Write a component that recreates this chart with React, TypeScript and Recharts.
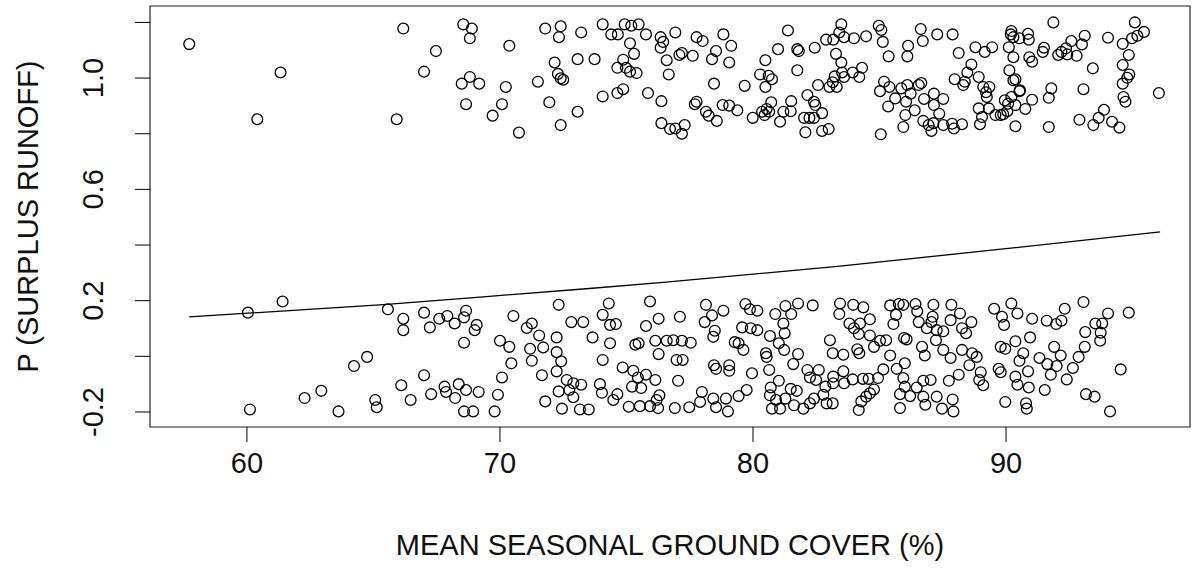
import { ScatterChart, Scatter, XAxis, YAxis, ReferenceArea } from 'recharts';

// [ground cover %, jittered outcome] for seasons with surplus runoff (outcome 1)
const runoffSeasons: [number, number][] = [
  [57.72, 1.122], [61.33, 1.02], [60.41, 0.852], [66.18, 1.178], [65.92, 0.852],
  [68.55, 1.193], [68.89, 1.178], [68.81, 1.143], [67.47, 1.097], [67.0, 1.023],
  [70.37, 1.116], [68.49, 0.98], [68.81, 1.004], [69.18, 0.98], [68.66, 0.906],
  [70.23, 0.968], [70.08, 0.906], [69.71, 0.865], [70.75, 0.804], [71.79, 1.178],
  [72.4, 1.186], [72.33, 1.147], [73.21, 1.164], [72.16, 1.056], [72.29, 1.015],
  [72.4, 0.999], [72.5, 0.994], [71.5, 0.987], [73.07, 1.068], [73.74, 1.068],
  [71.95, 0.913], [73.07, 0.879], [72.4, 0.831], [74.06, 1.193], [74.4, 1.157],
  [74.66, 1.157], [74.93, 1.193], [75.19, 1.188], [75.48, 1.193], [75.77, 1.157],
  [75.14, 1.125], [75.3, 1.087], [74.87, 1.066], [74.64, 1.037], [74.98, 1.037],
  [75.14, 1.023], [75.4, 1.018], [74.06, 0.934], [74.64, 0.946], [74.87, 0.96],
  [75.85, 0.946], [76.38, 0.917], [76.35, 1.147], [76.45, 1.13], [76.35, 1.109],
  [76.93, 1.164], [76.59, 1.064], [76.67, 1.013], [76.38, 0.838], [76.72, 0.817],
  [77.77, 1.147], [78.01, 1.133], [78.83, 1.157], [79.14, 1.116], [77.19, 1.09],
  [77.09, 1.083], [77.62, 1.08], [78.54, 1.097], [78.38, 1.068], [79.06, 1.056],
  [78.46, 0.98], [79.67, 0.972], [81.38, 1.171], [80.49, 1.064], [80.99, 1.104],
  [81.75, 1.104], [81.81, 1.097], [80.28, 1.013], [80.62, 1.008], [80.49, 0.968],
  [80.75, 0.996], [81.75, 1.028], [82.44, 1.109], [82.89, 1.138], [83.17, 1.138],
  [83.49, 1.193], [83.41, 1.164], [83.6, 1.147], [83.99, 1.143], [84.47, 1.15],
  [83.28, 1.087], [83.49, 1.056], [83.52, 1.02], [83.23, 1.006], [83.15, 0.985],
  [83.31, 0.968], [83.6, 1.004], [83.94, 1.02], [84.31, 1.037], [84.2, 1.004],
  [82.57, 0.975], [83.02, 0.968], [84.97, 1.188], [85.07, 1.173], [85.13, 1.13],
  [85.36, 1.078], [86.13, 1.116], [86.1, 1.078], [86.63, 1.176], [86.71, 1.133],
  [77.77, 0.915], [77.7, 0.906], [78.14, 0.879], [78.25, 0.865], [78.57, 0.846],
  [78.8, 0.903], [79.06, 0.901], [79.38, 0.884], [79.99, 0.857], [80.36, 0.879],
  [80.54, 0.889], [80.72, 0.913], [80.64, 0.879], [80.46, 0.867], [81.2, 0.879],
  [81.07, 0.843], [81.51, 0.917], [81.49, 0.881], [82.15, 0.939], [82.41, 0.915],
  [82.46, 0.903], [82.02, 0.857], [82.23, 0.857], [82.41, 0.857], [82.73, 0.874],
  [82.07, 0.805], [82.73, 0.81], [82.99, 0.817], [76.93, 0.819], [77.3, 0.831],
  [77.19, 0.8], [85.02, 0.953], [85.18, 0.987], [85.39, 0.968], [85.62, 0.927],
  [85.34, 0.898], [85.86, 0.963], [86.1, 0.975], [86.23, 0.944], [86.55, 0.975],
  [86.65, 0.982], [86.05, 0.915], [86.39, 0.884], [86.02, 0.867], [86.76, 0.925],
  [85.94, 0.824], [86.73, 0.846], [86.94, 0.831], [85.05, 0.798],
  [87.28, 1.157], [87.89, 1.157], [88.13, 1.09], [88.79, 1.111], [89.16, 1.094],
  [89.45, 1.111], [88.63, 1.049], [88.47, 1.02], [87.97, 0.996], [88.31, 0.975],
  [88.37, 0.987], [88.92, 1.004], [89.1, 0.968], [89.34, 0.968], [89.21, 0.949],
  [89.24, 0.932], [87.52, 0.925], [87.15, 0.944], [87.15, 0.903], [87.36, 0.872],
  [87.13, 0.838], [87.05, 0.81], [87.52, 0.831], [87.87, 0.836], [87.94, 0.819],
  [88.26, 0.834], [88.92, 0.891], [89.32, 0.891], [89.05, 0.86], [88.97, 0.834],
  [89.58, 0.867], [89.79, 0.867], [89.95, 0.92], [90.08, 0.908], [90.21, 0.932],
  [90.37, 0.903], [90.05, 0.881], [89.89, 0.87], [90.55, 0.956], [90.76, 0.889],
  [91.03, 0.922], [90.37, 0.827], [90.21, 1.169], [90.29, 1.147], [90.19, 1.157],
  [90.53, 1.143], [90.87, 1.159], [90.9, 1.138], [90.11, 1.111], [90.29, 1.075],
  [90.13, 1.028], [90.37, 0.996], [90.29, 0.992], [90.53, 0.953], [91.87, 1.2],
  [90.92, 1.075], [91.03, 1.059], [91.45, 1.094], [91.5, 1.109], [92.06, 1.083],
  [92.19, 1.094], [92.37, 1.107], [92.58, 1.133], [92.79, 1.08], [93.0, 1.121],
  [93.11, 1.152], [92.42, 1.085], [93.43, 1.035], [94.03, 1.145], [94.61, 1.123],
  [94.98, 1.143], [95.09, 1.2], [95.19, 1.152], [95.45, 1.166], [94.85, 1.083],
  [94.61, 1.047], [94.87, 1.013], [94.79, 1.001], [94.61, 0.98], [94.64, 0.932],
  [94.72, 0.915], [91.79, 0.963], [91.69, 0.929], [93.06, 0.96], [96.04, 0.946],
  [92.9, 0.85], [93.87, 0.886], [93.66, 0.857], [93.45, 0.831], [94.19, 0.843],
  [94.48, 0.822], [91.69, 0.824],
];

// [ground cover %, jittered outcome] for seasons without surplus runoff (outcome 0)
const drySeasons: [number, number][] = [
  [60.04, 0.157], [61.41, 0.197], [65.57, 0.169], [66.18, 0.135], [66.18, 0.094],
  [64.23, -0.035], [64.75, -0.002], [66.1, -0.104], [66.47, -0.157], [62.94, -0.124],
  [62.28, -0.15], [60.12, -0.191], [63.62, -0.198], [65.07, -0.157], [65.13, -0.183],
  [67.0, 0.157], [67.23, 0.104], [67.6, 0.135], [67.92, 0.145], [68.21, 0.118],
  [68.66, 0.164], [68.58, 0.14], [69.08, 0.113], [69.0, 0.094], [68.58, 0.049],
  [67.0, -0.068], [67.28, -0.136], [67.81, -0.109], [67.87, -0.128], [68.37, -0.1],
  [68.23, -0.15], [68.66, -0.121], [69.16, -0.128], [68.58, -0.198], [68.94, -0.198],
  [69.92, -0.138], [69.79, -0.198], [70.08, -0.076], [70.45, -0.025], [70.0, 0.056],
  [70.37, 0.034], [70.53, 0.145], [71.06, 0.102], [71.26, 0.118], [71.55, 0.075],
  [71.19, 0.027], [71.71, 0.032], [71.26, -0.016], [71.66, -0.068], [72.24, 0.068],
  [72.24, 0.015], [72.42, -0.018], [72.24, -0.054], [72.32, 0.185], [72.82, 0.123],
  [73.29, 0.123], [71.79, -0.162], [72.32, -0.126], [72.64, -0.085], [72.9, -0.097],
  [72.74, -0.121], [72.9, -0.147], [72.45, -0.188], [73.16, -0.191], [73.51, -0.191],
  [73.21, -0.102], [73.66, 0.068], [74.06, -0.013], [74.3, 0.19], [74.06, 0.149],
  [74.35, 0.113], [74.58, 0.116], [74.35, 0.047], [73.95, -0.1], [74.03, -0.131],
  [74.64, -0.136], [74.48, -0.157], [74.85, -0.04], [75.27, -0.052], [75.45, -0.076],
  [75.22, -0.109], [75.77, -0.066], [76.14, -0.085], [75.58, -0.114], [76.3, -0.14],
  [76.19, -0.157], [75.93, -0.179], [75.53, -0.179], [75.09, -0.181], [76.25, -0.186],
  [75.93, 0.197], [76.27, 0.135], [75.77, 0.109], [76.14, 0.056], [76.59, 0.056],
  [76.27, 0.008], [75.35, 0.042], [75.48, 0.047],
  [77.11, 0.142], [76.85, 0.058], [77.19, 0.056], [77.54, 0.049], [76.98, -0.013],
  [77.22, -0.013], [77.04, -0.088], [76.91, -0.186], [77.48, -0.183], [77.91, -0.164],
  [77.98, -0.128], [78.43, -0.152], [78.54, -0.183], [78.93, -0.152], [79.01, -0.198],
  [79.43, -0.143], [79.75, -0.121], [78.14, 0.185], [78.09, 0.123], [78.38, 0.147],
  [78.83, 0.164], [78.49, 0.092], [78.43, 0.07], [79.28, 0.051], [79.43, 0.047],
  [79.62, 0.023], [78.46, -0.032], [78.54, -0.045], [79.06, -0.032], [79.06, -0.052],
  [79.96, -0.061], [79.7, 0.188], [79.88, 0.169], [80.17, 0.164], [79.57, 0.104],
  [79.91, 0.101], [80.17, 0.094], [80.51, 0.011], [80.54, -0.002], [80.64, -0.049],
  [80.7, -0.112], [81.02, -0.088], [80.67, -0.14], [80.75, -0.188], [81.07, -0.188],
  [80.91, -0.157], [81.28, -0.152], [81.49, -0.117], [81.73, -0.124], [81.62, -0.176],
  [81.99, -0.188], [82.25, -0.169], [82.41, -0.152], [80.67, 0.073], [80.88, 0.152],
  [81.28, 0.181], [81.78, 0.19], [81.51, 0.152], [81.2, 0.118], [81.25, 0.083],
  [81.02, 0.047], [81.23, 0.023], [81.78, 0.008], [81.59, -0.028], [82.36, 0.183],
  [82.15, -0.049], [82.25, -0.076], [82.6, -0.049], [82.49, -0.085], [82.86, -0.109],
  [82.78, -0.138], [82.91, -0.169], [83.15, -0.169], [83.04, 0.058], [83.15, 0.011],
  [83.57, 0.006], [83.17, -0.073], [83.17, -0.097], [83.57, -0.054], [83.94, -0.083],
  [83.6, -0.097], [83.44, 0.19], [83.41, 0.152], [83.96, 0.185], [84.36, 0.176],
  [83.81, 0.118], [83.99, 0.101], [84.23, 0.118], [84.62, 0.133], [84.18, 0.08],
  [84.12, 0.025], [84.2, 0.011], [84.62, 0.075], [84.78, 0.034], [85.02, 0.056],
  [85.26, 0.058], [85.42, 0.003], [85.55, 0.116], [85.42, 0.183], [85.76, 0.188],
  [85.94, 0.185], [86.42, 0.188], [86.49, 0.162], [85.65, 0.149], [85.97, 0.066],
  [86.07, 0.061], [86.55, 0.123], [86.68, 0.034], [86.79, 0.003], [87.05, 0.123],
  [86.87, 0.101], [87.26, 0.094], [85.15, -0.047], [84.94, -0.078], [84.57, -0.081],
  [84.34, -0.081], [85.68, -0.045], [86.0, -0.025], [85.94, -0.078], [86.0, -0.109],
  [85.81, -0.136], [86.21, -0.143], [86.47, -0.112], [86.73, -0.088], [87.02, -0.085],
  [86.73, -0.145], [86.81, -0.174], [87.26, -0.145], [84.78, -0.119], [84.62, -0.133],
  [84.47, -0.145], [84.28, -0.162], [84.18, -0.193], [85.81, -0.186],
  [87.13, 0.185], [87.1, 0.142], [87.84, 0.185], [88.18, 0.154], [87.81, 0.13],
  [88.63, 0.123], [88.26, 0.101], [88.42, 0.083], [87.52, 0.09], [87.23, 0.058],
  [87.52, 0.023], [87.81, -0.006], [88.26, 0.023], [88.66, 0.011], [88.84, -0.002],
  [88.55, -0.032], [89.0, -0.057], [88.94, -0.085], [89.1, -0.104], [88.13, -0.066],
  [87.74, -0.088], [89.53, 0.171], [90.21, 0.19], [90.45, 0.154], [89.84, 0.142],
  [89.92, 0.113], [91.03, 0.135], [91.61, 0.128], [91.98, 0.116], [92.19, 0.128],
  [92.32, 0.171], [93.06, 0.195], [89.79, 0.034], [89.97, 0.027], [90.37, 0.054],
  [90.68, 0.011], [90.53, -0.016], [90.95, 0.068], [90.87, -0.054], [90.9, -0.112],
  [89.79, -0.057], [89.71, -0.045], [90.37, -0.073], [90.45, -0.102], [91.32, -0.006],
  [91.53, -0.121], [89.97, -0.164], [90.79, -0.169], [90.82, -0.188], [91.9, 0.034],
  [92.16, 0.003], [91.63, -0.028], [91.77, -0.066], [92.0, -0.035], [92.4, -0.083],
  [92.64, -0.042], [92.87, -0.002], [93.11, 0.034], [93.13, 0.087], [93.53, 0.118],
  [93.74, 0.085], [93.72, 0.056], [93.8, 0.118], [94.03, 0.154], [94.85, 0.157],
  [94.53, -0.047], [93.16, -0.136], [93.5, -0.145], [94.11, -0.198], [87.47, -0.188],
  [87.89, -0.155], [87.92, -0.198],
];

// fitted logistic curve, read at a few cover values
const fitCover = [57.72, 60.04, 65.39, 69.34, 73.29, 76.45, 83.34, 89.8, 96.09];
const fitProb = [0.142, 0.155, 0.186, 0.214, 0.242, 0.266, 0.323, 0.385, 0.447];

const coverTicks = [60, 70, 80, 90];
const probTicks = [-0.2, 0, 0.2, 0.4, 0.6, 0.8, 1.0, 1.2];
const probLabels = ['-0.2', '0.2', '0.6', '1.0'];

const X_DOMAIN: [number, number] = [56.17, 97.27];
const Y_DOMAIN: [number, number] = [-0.254, 1.259];

const FONT = '"Liberation Sans", Arial, sans-serif';
const FONT_SIZE = 29;
const INK = '#111';

const toPoints = (rows: [number, number][]) => rows.map(([cover, p]) => ({ cover, p }));
const fitLine = fitCover.map((cover, i) => ({ cover, p: fitProb[i] }));

const Ring = (props: any) => (
  <circle cx={props.cx} cy={props.cy} r={5.4} fill="none" stroke="#000" strokeWidth={1.3} />
);

const CoverTick = ({ x, y, payload }: any) => (
  <text x={x} y={y + 19} textAnchor="middle" dominantBaseline="central" fontFamily={FONT} fontSize={FONT_SIZE} fill={INK}>
    {payload.value}
  </text>
);

const ProbTick = ({ x, y, payload }: any) => {
  const text = Number(payload.value).toFixed(1);
  if (!probLabels.includes(text)) return <g />;
  const tx = x - 40;
  return (
    <text
      x={tx}
      y={y}
      transform={`rotate(-90, ${tx}, ${y})`}
      textAnchor="middle"
      dominantBaseline="central"
      fontFamily={FONT}
      fontSize={FONT_SIZE}
      fill={INK}
    >
      {text}
    </text>
  );
};

const CoverTitle = ({ viewBox }: any) => (
  <text
    x={viewBox.x + viewBox.width / 2}
    y={viewBox.y + 118}
    textAnchor="middle"
    dominantBaseline="central"
    fontFamily={FONT}
    fontSize={FONT_SIZE}
    fill={INK}
  >
    MEAN SEASONAL GROUND COVER (%)
  </text>
);

const ProbTitle = ({ viewBox }: any) => {
  const cx = viewBox.x + 28;
  const cy = viewBox.y + viewBox.height / 2;
  return (
    <text
      x={cx}
      y={cy}
      transform={`rotate(-90, ${cx}, ${cy})`}
      textAnchor="middle"
      dominantBaseline="central"
      fontFamily={FONT}
      fontSize={FONT_SIZE}
      fill={INK}
    >
      P (SURPLUS RUNOFF)
    </text>
  );
};

export default function App() {
  return (
    <div style={{ position: 'absolute', left: 0, top: 0, width: 1192, height: 574, background: '#fff' }}>
      <ScatterChart width={1192} height={574} margin={{ top: 6, right: 2, bottom: 0, left: 0 }}>
        <XAxis
          type="number"
          dataKey="cover"
          domain={X_DOMAIN}
          ticks={coverTicks}
          interval={0}
          allowDataOverflow
          height={147}
          tickSize={15}
          axisLine={false}
          tickLine={{ stroke: '#000' }}
          tick={<CoverTick />}
          label={<CoverTitle />}
        />
        <YAxis
          type="number"
          dataKey="p"
          domain={Y_DOMAIN}
          ticks={probTicks}
          interval={0}
          allowDataOverflow
          width={150}
          tickSize={15}
          axisLine={false}
          tickLine={{ stroke: '#000' }}
          tick={<ProbTick />}
          label={<ProbTitle />}
        />
        <ReferenceArea
          x1={X_DOMAIN[0]}
          x2={X_DOMAIN[1]}
          y1={Y_DOMAIN[0]}
          y2={Y_DOMAIN[1]}
          fill="none"
          stroke="#222"
          strokeWidth={1.2}
          ifOverflow="visible"
        />
        <Scatter data={toPoints(runoffSeasons)} shape={Ring} isAnimationActive={false} />
        <Scatter data={toPoints(drySeasons)} shape={Ring} isAnimationActive={false} />
        <Scatter
          data={fitLine}
          line={{ stroke: '#000', strokeWidth: 1.3 }}
          lineType="joint"
          shape={() => <g />}
          isAnimationActive={false}
        />
      </ScatterChart>
    </div>
  );
}
